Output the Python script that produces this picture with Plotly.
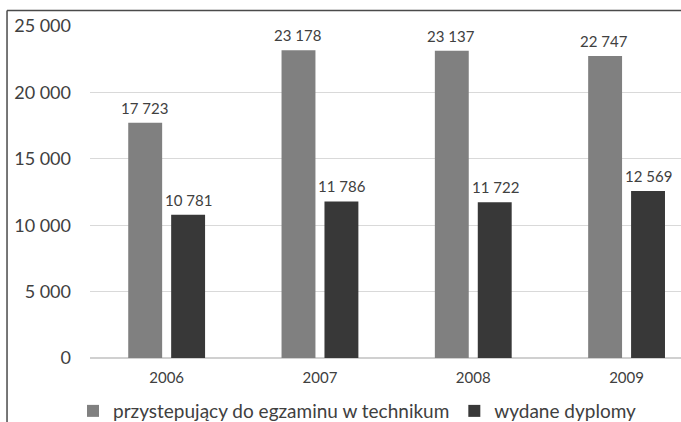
import plotly.graph_objects as go

years = ['2006', '2007', '2008', '2009']
przystepujacy = [17723, 23178, 23137, 22747]
dyplomy = [10781, 11786, 11722, 12569]
y_ticks = [0, 5000, 10000, 15000, 20000, 25000]

FONT = 'Lato, "Open Sans", sans-serif'
TXT = '#404040'
FRAME = '#4a4a4a'

fig = go.Figure()
fig.add_trace(go.Bar(x=years, y=przystepujacy, name='przystepujący do egzaminu w technikum',
                     marker=dict(color='#808080', line=dict(width=0))))
fig.add_trace(go.Bar(x=years, y=dyplomy, name='wydane dyplomy',
                     marker=dict(color='#383838', line=dict(width=0))))

# value labels above the bars
for i, yr in enumerate(years):
    for vals, off in ((przystepujacy, -0.145), (dyplomy, 0.145)):
        v = vals[i]
        fig.add_annotation(x=i + off, y=v, text=f'{v:,}'.replace(',', ' '),
                           showarrow=False, yshift=15, yanchor='middle',
                           font=dict(size=15, color=TXT, family=FONT))

fig.update_layout(
    width=681, height=422,
    margin=dict(l=90, r=0, t=26, b=64, autoexpand=False),
    paper_bgcolor='white', plot_bgcolor='white',
    barmode='group', bargap=0.44, bargroupgap=0.21,
    separators=', ',
    font=dict(family=FONT, color=TXT),
    showlegend=True,
    legend=dict(orientation='h', xref='container', yref='container',
                x=0.525, xanchor='center', y=0.026, yanchor='middle',
                font=dict(size=19, color=TXT), itemwidth=30),
    shapes=[
        # outer chart frame (only left and top edges are inside the crop)
        dict(type='line', xref='paper', yref='paper', x0=-0.1404, x1=-0.1404,
             y0=-0.3, y1=1.047, line=dict(color=FRAME, width=1.5)),
        dict(type='line', xref='paper', yref='paper', x0=-0.1404, x1=1.0,
             y0=1.047, y1=1.047, line=dict(color=FRAME, width=1.5)),
    ],
)
fig.update_xaxes(type='category', range=[-0.5, 3.355], showgrid=False, showline=False,
                 ticks='', ticklabelstandoff=9, automargin=False,
                 tickfont=dict(size=15, color=TXT))
fig.update_yaxes(range=[0, 25000], tickvals=y_ticks, tickformat=',d', showgrid=True,
                 gridcolor='#d9d9d9', gridwidth=1, zeroline=True, zerolinecolor='#d0d0d0',
                 showline=False, ticks='', ticklabelstandoff=18, automargin=False,
                 tickfont=dict(size=18, color=TXT))

fig.write_html("out.html", config=dict(displayModeBar=False),
               post_script="document.body.style.margin='0';document.body.style.overflow='hidden';")
